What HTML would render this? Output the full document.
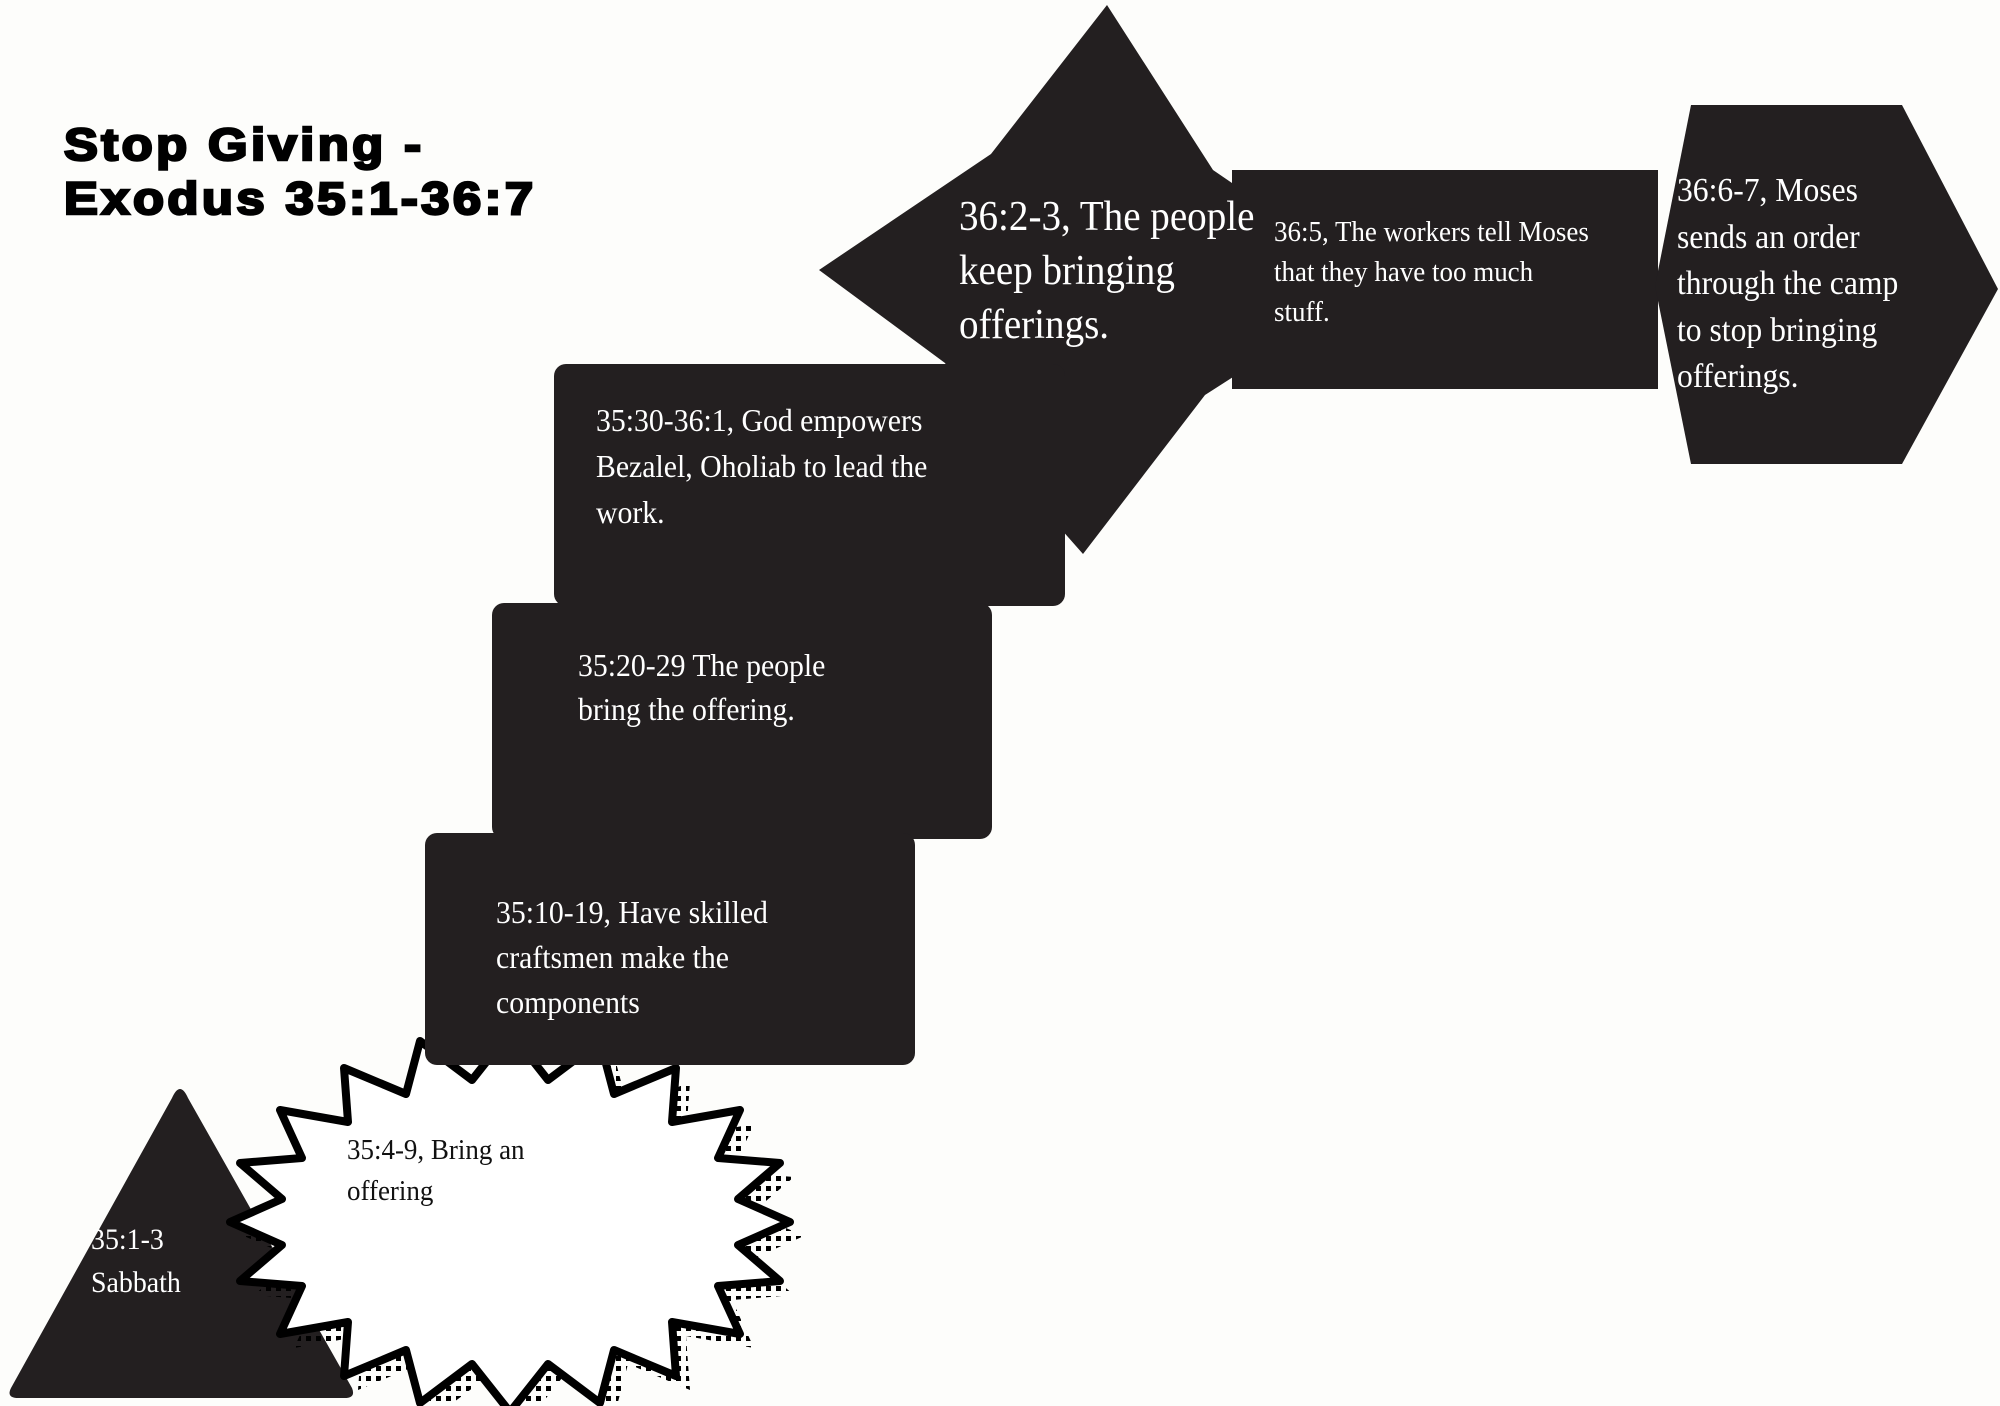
<!DOCTYPE html>
<html><head><meta charset="utf-8">
<style>
html,body{margin:0;padding:0;background:#fdfdfb;}
#c{position:relative;width:2000px;height:1406px;overflow:hidden;background:#fdfdfb;}
svg{position:absolute;left:0;top:0;}
.t{position:absolute;font-family:"Liberation Serif",serif;color:#fff;white-space:nowrap;transform:scaleX(0.93);transform-origin:0 0;}
.d{color:#111;}
.title{position:absolute;left:64px;top:118px;font-family:"Liberation Sans",sans-serif;font-weight:900;font-size:45px;line-height:54px;letter-spacing:3px;color:#000;-webkit-text-stroke:2.5px #000;transform:scaleX(1.13);transform-origin:0 0;white-space:nowrap;}
</style></head><body><div id="c">
<svg width="2000" height="1406" viewBox="0 0 2000 1406">
<defs>
<pattern id="dots" width="10" height="10" patternUnits="userSpaceOnUse">
<rect x="2" y="2" width="5" height="5" fill="#000"/>
</pattern>
</defs>
<polygon fill="#231f20" points="1107,5 1213,170 1251,196 1244,370 1205,395 1083,554 1000,460 945,363 819,270 991,154"/>
<rect x="1232" y="170" width="426" height="219" fill="#231f20"/>
<polygon fill="#231f20" points="1691,105 1902,105 1998,289 1902,464 1691,464 1655,286"/>
<path fill="#231f20" d="M172,1098 Q180,1080 188,1098 L352,1388 Q356,1398 345,1398 L18,1398 Q6,1398 11,1388 Z"/>
<g transform="translate(14,14)">
<polygon fill="url(#dots)" points="790,1222 738,1245 780,1281 718,1286 740,1334 672,1322 676,1376 614,1350 600,1403 548,1364 510,1412 472,1364 420,1403 406,1350 344,1376 348,1322 280,1334 302,1286 240,1281 282,1245 230,1222 282,1199 240,1163 302,1158 280,1110 348,1122 344,1068 406,1094 420,1041 472,1080 510,1032 548,1080 600,1041 614,1094 676,1068 672,1122 740,1110 718,1158 780,1163 738,1199"/>
</g>
<polygon fill="#fff" stroke="#000" stroke-width="8" stroke-linejoin="round" points="790,1222 738,1245 780,1281 718,1286 740,1334 672,1322 676,1376 614,1350 600,1403 548,1364 510,1412 472,1364 420,1403 406,1350 344,1376 348,1322 280,1334 302,1286 240,1281 282,1245 230,1222 282,1199 240,1163 302,1158 280,1110 348,1122 344,1068 406,1094 420,1041 472,1080 510,1032 548,1080 600,1041 614,1094 676,1068 672,1122 740,1110 718,1158 780,1163 738,1199"/>
<rect x="554" y="364" width="511" height="242" rx="12" fill="#231f20"/>
<rect x="492" y="603" width="500" height="236" rx="12" fill="#231f20"/>
<rect x="425" y="833" width="490" height="232" rx="12" fill="#231f20"/>
</svg>

<div class="title">Stop Giving -<br>Exodus 35:1-36:7</div>

<div class="t" style="left:959px;top:190px;font-size:42px;line-height:54px;">36:2-3, The people<br>keep bringing<br>offerings.</div>
<div class="t" style="left:1274px;top:212px;font-size:29px;line-height:40px;">36:5, The workers tell Moses<br>that they have too much<br>stuff.</div>
<div class="t" style="left:1677px;top:168px;font-size:34px;line-height:46.5px;">36:6-7, Moses<br>sends an order<br>through the camp<br>to stop bringing<br>offerings.</div>
<div class="t" style="left:596px;top:397px;font-size:32px;line-height:46px;">35:30-36:1, God empowers<br>Bezalel, Oholiab to lead the<br>work.</div>
<div class="t" style="left:578px;top:643px;font-size:32px;line-height:44px;">35:20-29 The people<br>bring the offering.</div>
<div class="t" style="left:496px;top:890px;font-size:32px;line-height:45px;">35:10-19, Have skilled<br>craftsmen make the<br>components</div>
<div class="t d" style="left:347px;top:1130px;font-size:29px;line-height:41px;">35:4-9, Bring an<br>offering</div>
<div class="t" style="left:91px;top:1218px;font-size:30px;line-height:43px;">35:1-3<br>Sabbath</div>
</div></body></html>
